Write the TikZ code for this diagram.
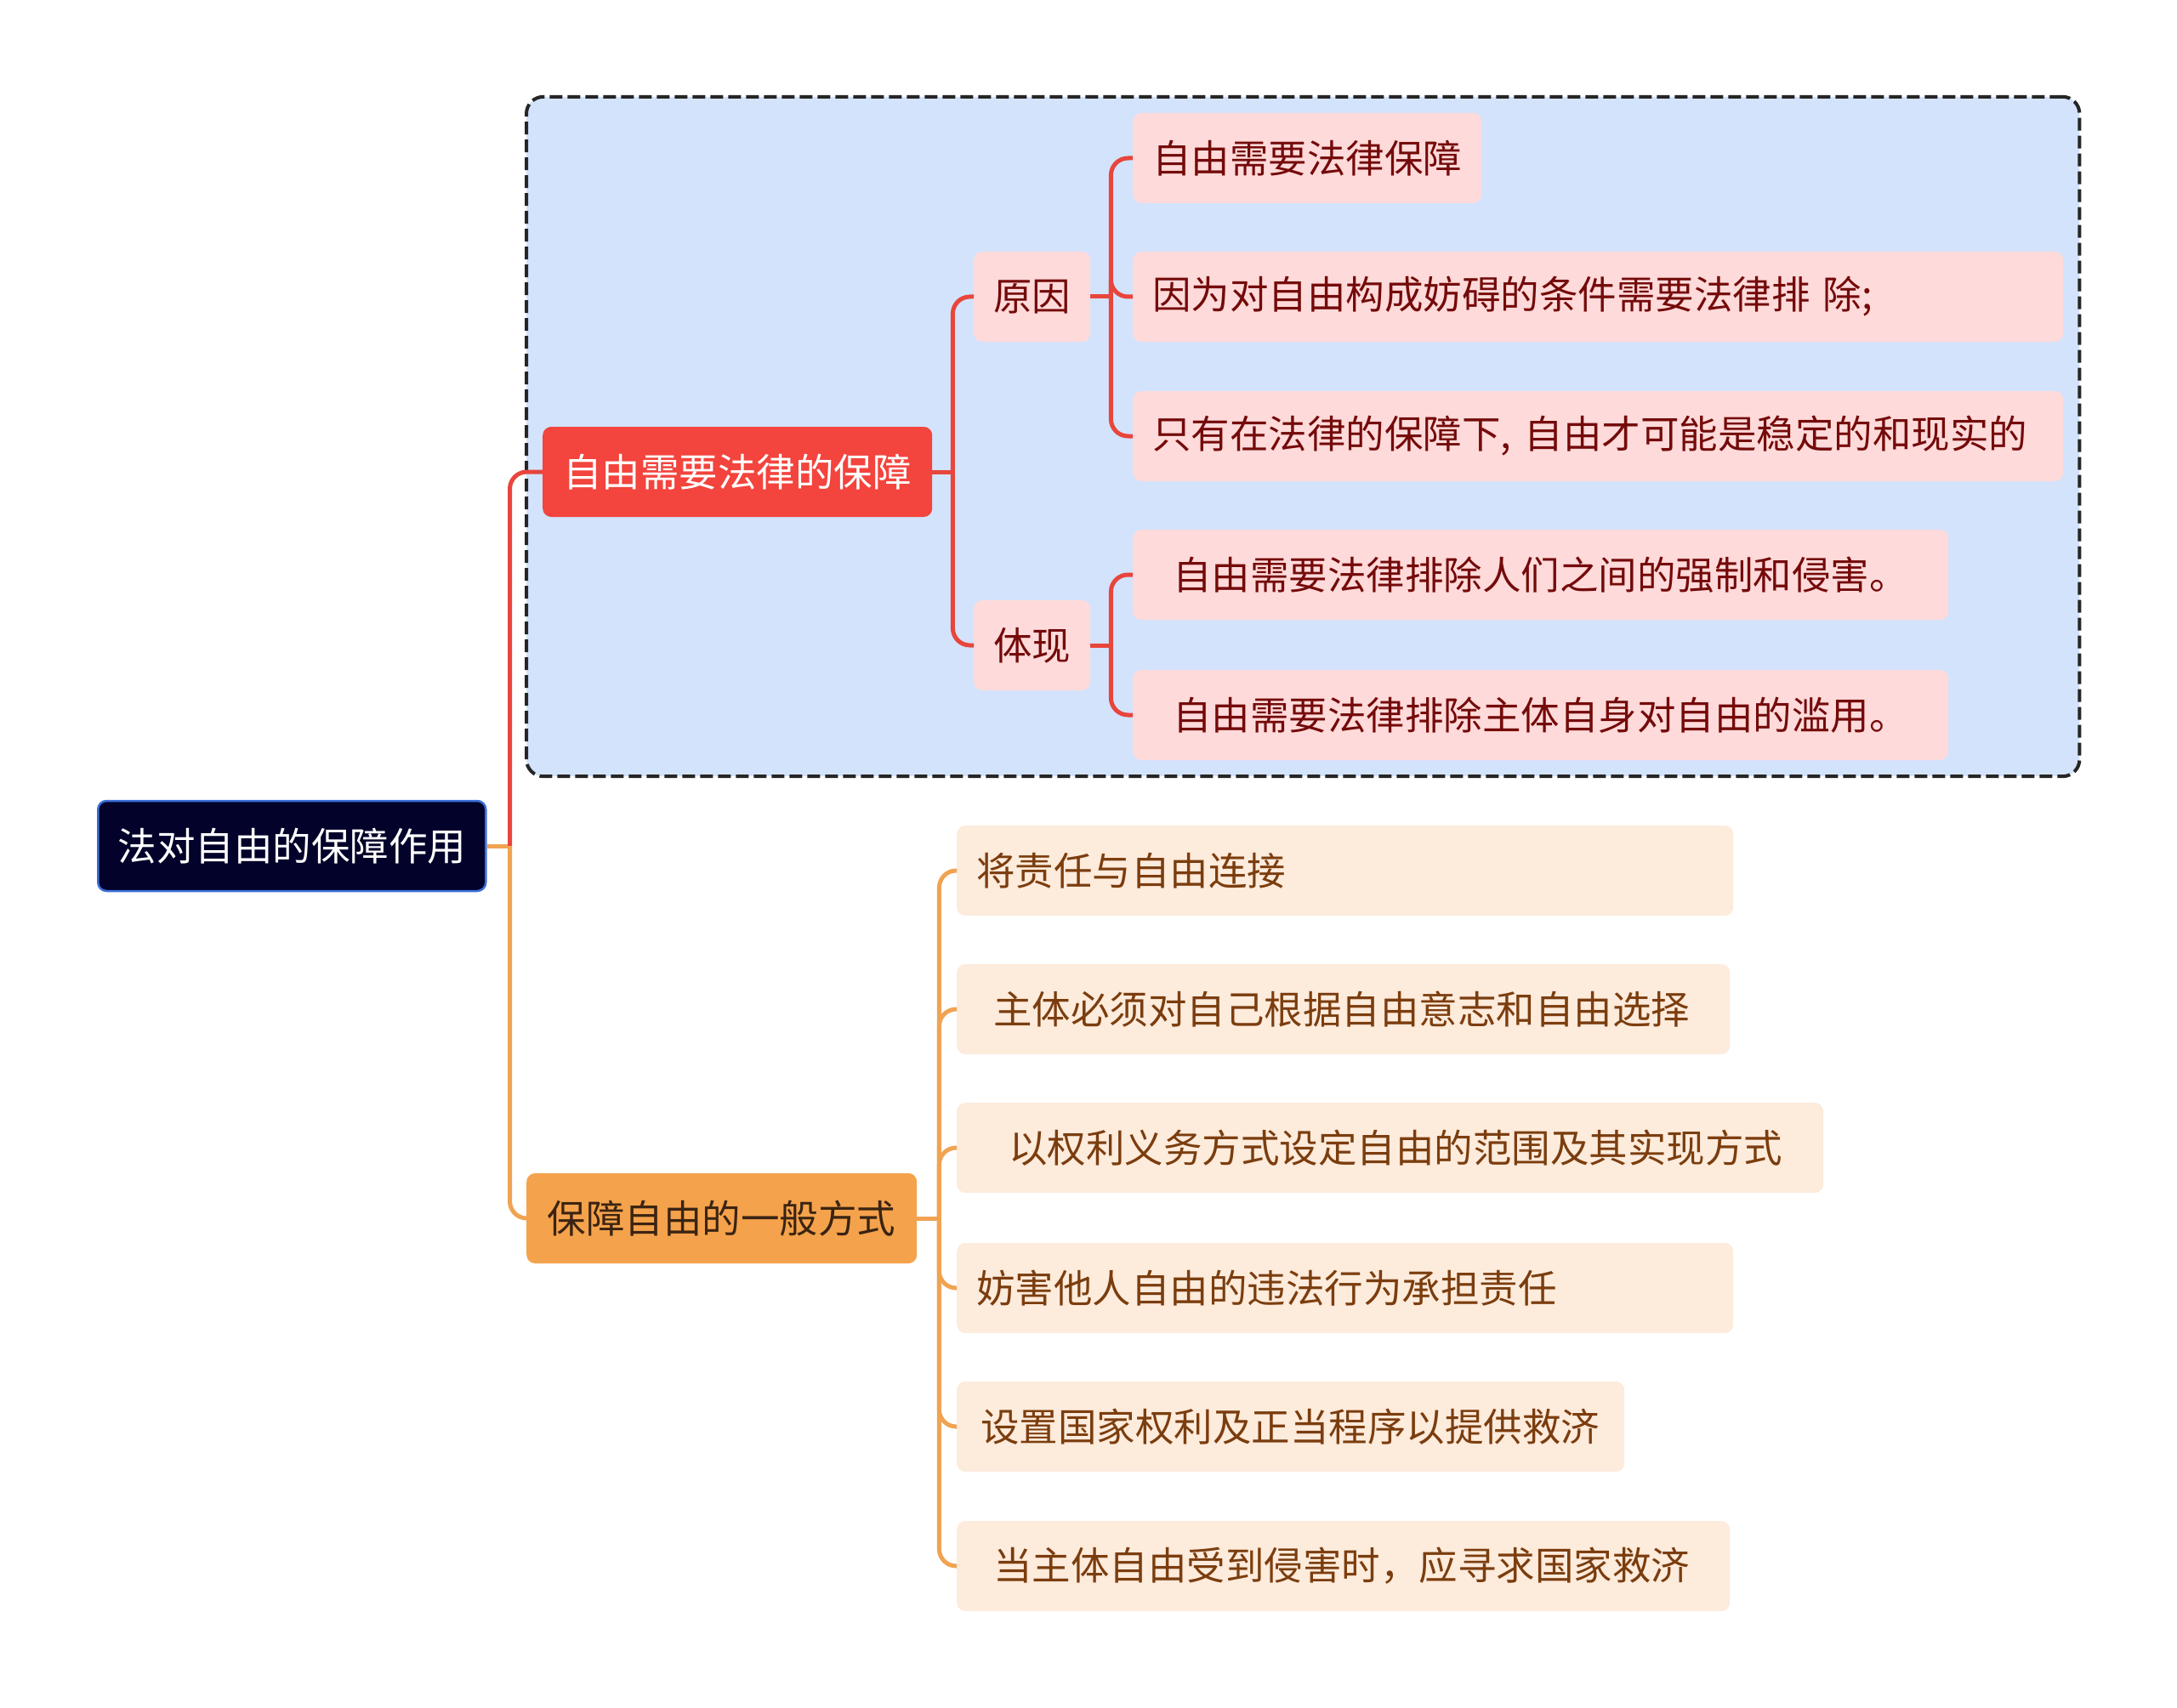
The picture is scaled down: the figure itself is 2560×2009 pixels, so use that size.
\documentclass[tikz,border=0pt]{standalone}
\usepackage{fontspec}
\newfontfamily\cjk{Noto Sans CJK SC}
\usetikzlibrary{positioning, fit, backgrounds}
\definecolor{rootnavy}{HTML}{02022A}
\definecolor{rootedge}{HTML}{3A6FD8}
\definecolor{lawred}{HTML}{F3443D}
\definecolor{lawline}{HTML}{E8453C}
\definecolor{lawpink}{HTML}{FFDADA}
\definecolor{lawtext}{HTML}{740A0A}
\definecolor{wayorange}{HTML}{F5A24C}
\definecolor{wayline}{HTML}{F0A352}
\definecolor{waycream}{HTML}{FDEBDC}
\definecolor{waytext}{HTML}{7B3D0E}
\definecolor{waydark}{HTML}{3A2412}
\definecolor{groupblue}{HTML}{D3E3FC}
\definecolor{groupedge}{HTML}{262626}

\begin{document}
\begin{tikzpicture}[
  x=1pt, y=-1pt,
  box/.style={
    rectangle, rounded corners=10pt, anchor=west,
    minimum height=106pt, inner ysep=0pt, inner xsep=23pt,
    font={\cjk\fontsize{45.5}{54}\selectfont}
  },
  rootbox/.style={box, fill=rootnavy, draw=rootedge, line width=2.5pt, text=white},
  lawhead/.style={box, fill=lawred, text=white},
  lawbox/.style={box, fill=lawpink, text=lawtext, align=left},
  wayhead/.style={box, fill=wayorange, text=waydark},
  waybox/.style={box, fill=waycream, text=waytext, align=left},
  groupbox/.style={draw=groupedge, line width=4pt, dash pattern=on 15pt off 6pt,
    fill=groupblue, rounded corners=20pt, inner sep=19pt},
  lawlink/.style={line width=5pt, lawline, rounded corners=20pt},
  waylink/.style={line width=5pt, wayline, rounded corners=20pt}
]
  \useasboundingbox (0,0) rectangle (2560,2009);

  % Root
  \node[rootbox, minimum width=456pt] (root) at (114,995) {法对自由的保障作用};

  % First branch
  \node[lawhead, minimum width=458pt] (need) at (638,555) {自由需要法律的保障};
  \node[lawbox, text width=91pt] (reason) at (1145,349) {原因};
  \node[lawbox, text width=91pt] (embody) at (1145,759) {体现};
  \node[lawbox, text width=364pt] (r1) at (1332,186) {自由需要法律保障};
  \node[lawbox, text width=1048pt] (r2) at (1332,349) {因为对自由构成妨碍的条件需要法律排 除;};
  \node[lawbox, text width=1048pt] (r3) at (1332,513) {只有在法律的保障下, 自由才可能是稳定的和现实的};
  \node[lawbox, text width=913pt] (e1) at (1332,676) {\hspace*{24pt}自由需要法律排除人们之间的强制和侵害。};
  \node[lawbox, text width=913pt] (e2) at (1332,841) {\hspace*{24pt}自由需要法律排除主体自身对自由的滥用。};

  % Second branch
  \node[wayhead, minimum width=459pt] (ways) at (619,1433) {保障自由的一般方式};
  \node[waybox, text width=867pt] (w1) at (1125,1024) {将责任与自由连接};
  \node[waybox, text width=863pt] (w2) at (1125,1187) {\hspace*{20pt}主体必须对自己根据自由意志和自由选择};
  \node[waybox, text width=973pt] (w3) at (1125,1350) {\hspace*{38pt}以权利义务方式设定自由的范围及其实现方式};
  \node[waybox, text width=867pt] (w4) at (1125,1515) {妨害他人自由的违法行为承担责任};
  \node[waybox, text width=739pt] (w5) at (1125,1678) {\hspace*{5pt}设置国家权利及正当程序以提供救济};
  \node[waybox, text width=863pt] (w6) at (1125,1842) {\hspace*{20pt}当主体自由受到侵害时，应寻求国家救济};

  % Group frame
  \begin{scope}[on background layer]
    \node[groupbox, fit=(need)(r1)(r2)(r3)(e1)(e2)] (group) {};
  \end{scope}

  % Fork points
  \coordinate (forkroot) at ([xshift=27pt]root.east);
  \coordinate (forkneed) at ([xshift=24pt]need.east);
  \coordinate (forkreason) at ([xshift=24pt]reason.east);
  \coordinate (forkembody) at ([xshift=24pt]embody.east);
  \coordinate (forkways) at ([xshift=26pt]ways.east);

  % Connectors
  \draw[waylink] (root.east) -- (forkroot);
  \draw[lawlink] (forkroot) |- (need.west);
  \draw[waylink] (forkroot) |- (ways.west);

  \draw[lawlink] (need.east) -- (forkneed);
  \draw[lawlink] (forkneed) |- (reason.west);
  \draw[lawlink] (forkneed) |- (embody.west);

  \draw[lawlink] (reason.east) -- (forkreason);
  \foreach \n in {r1,r2,r3}
    \draw[lawlink] (forkreason) |- (\n.west);

  \draw[lawlink] (embody.east) -- (forkembody);
  \foreach \n in {e1,e2}
    \draw[lawlink] (forkembody) |- (\n.west);

  \draw[waylink] (ways.east) -- (forkways);
  \foreach \n in {w1,w2,w3,w4,w5,w6}
    \draw[waylink] (forkways) |- (\n.west);
\end{tikzpicture}
\end{document}
